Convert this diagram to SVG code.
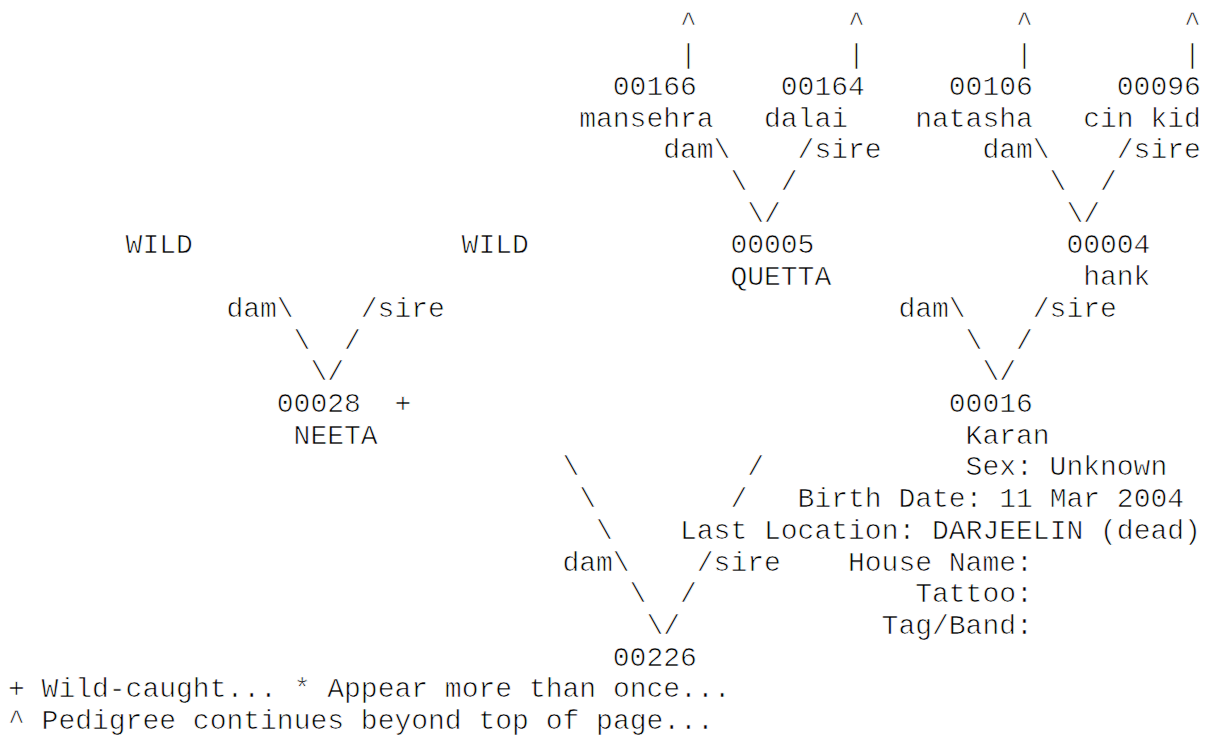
<svg xmlns="http://www.w3.org/2000/svg" width="1206" height="742" viewBox="0 0 1206 742">
<style>
text{font-family:"Liberation Mono","Courier New",monospace;font-size:28px;fill:#000;stroke:#fff;stroke-width:0.7px;white-space:pre}
</style>
<rect width="1206" height="742" fill="#fff"/>
<g id="connectors">
<text x="680" y="31.3">^</text><text x="848" y="31.3">^</text><text x="1016" y="31.3">^</text><text x="1184" y="31.3">^</text>
<text x="680" y="63">|</text><text x="848" y="63">|</text><text x="1016" y="63">|</text><text x="1184" y="63">|</text>
<text x="663.2" y="158.2">dam\</text><text x="797.6" y="158.2">/sire</text>
<text x="982.4" y="158.2">dam\</text><text x="1116.8" y="158.2">/sire</text>
<text x="730.4" y="189.9">\</text><text x="780.8" y="189.9">/</text>
<text x="1049.6" y="189.9">\</text><text x="1100" y="189.9">/</text>
<text x="747.2" y="221.6">\/</text><text x="1066.4" y="221.6">\/</text>
<text x="226.4" y="316.8">dam\</text><text x="360.8" y="316.8">/sire</text>
<text x="898.4" y="316.8">dam\</text><text x="1032.8" y="316.8">/sire</text>
<text x="293.6" y="348.5">\</text><text x="344" y="348.5">/</text>
<text x="965.6" y="348.5">\</text><text x="1016" y="348.5">/</text>
<text x="310.4" y="380.2">\/</text><text x="982.4" y="380.2">\/</text>
<text x="562.4" y="475.4">\</text><text x="747.2" y="475.4">/</text>
<text x="579.2" y="507.1">\</text><text x="730.4" y="507.1">/</text>
<text x="596" y="538.8">\</text>
<text x="562.4" y="570.5">dam\</text><text x="696.8" y="570.5">/sire</text>
<text x="629.6" y="602.3">\</text><text x="680" y="602.3">/</text>
<text x="646.4" y="634">\/</text>
</g>
<g id="node-00166"><text x="612.8" y="94.7">00166</text><text x="579.2" y="126.5">mansehra</text></g>
<g id="node-00164"><text x="780.8" y="94.7">00164</text><text x="764" y="126.5">dalai</text></g>
<g id="node-00106"><text x="948.8" y="94.7">00106</text><text x="915.2" y="126.5">natasha</text></g>
<g id="node-00096"><text x="1116.8" y="94.7">00096</text><text x="1083.2" y="126.5">cin kid</text></g>
<g id="node-wild-dam"><text x="125.6" y="253.3">WILD</text></g>
<g id="node-wild-sire"><text x="461.6" y="253.3">WILD</text></g>
<g id="node-00005"><text x="730.4" y="253.3">00005</text><text x="730.4" y="285.1">QUETTA</text></g>
<g id="node-00004"><text x="1066.4" y="253.3">00004</text><text x="1083.2" y="285.1">hank</text></g>
<g id="node-00028"><text x="276.8" y="411.9">00028</text><text x="394.4" y="411.9">+</text><text x="293.6" y="443.7">NEETA</text></g>
<g id="node-00016"><text x="948.8" y="411.9">00016</text><text x="965.6" y="443.7">Karan</text>
<text x="965.6" y="475.4">Sex: Unknown</text>
<text x="797.6" y="507.1">Birth Date: 11 Mar 2004</text>
<text x="680" y="538.8">Last Location: DARJEELIN (dead)</text>
<text x="848" y="570.5">House Name:</text>
<text x="915.2" y="602.3">Tattoo:</text>
<text x="881.6" y="634">Tag/Band:</text></g>
<g id="node-00226"><text x="612.8" y="665.7">00226</text></g>
<g id="legend"><text x="8" y="697.4">+ Wild-caught... * Appear more than once...</text>
<text x="8" y="729.1">^ Pedigree continues beyond top of page...</text></g>
</svg>
